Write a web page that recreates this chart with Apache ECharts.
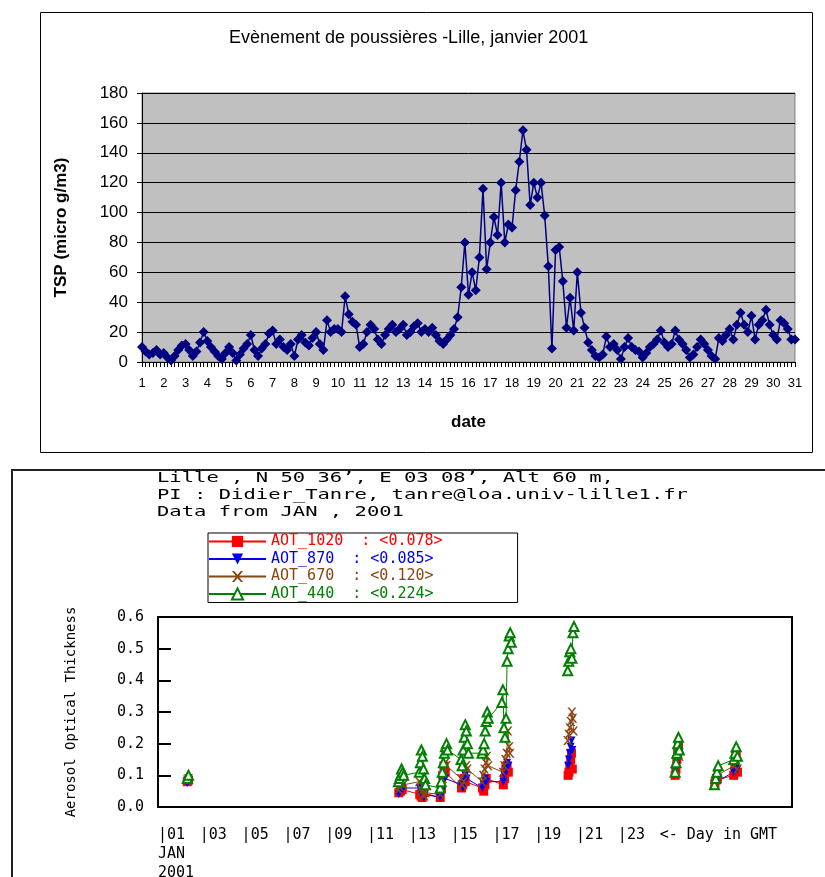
<!DOCTYPE html>
<html lang="fr">
<head>
<meta charset="UTF-8">
<title>Lille, janvier 2001</title>
<style>
  * { margin: 0; padding: 0; }
  html, body { width: 100%; height: 100%; background: #fff; }
  #chart { width: 825px; height: 877px; }
</style>
</head>
<body>
<div id="chart"></div>
<script src="https://cdn.jsdelivr.net/npm/echarts@6/dist/echarts.min.js"></script>
<script>
// --- top chart: TSP, 6 samples a day (every 4 h) ---
const dayLabels = ['1','2','3','4','5','6','7','8','9','10','11','12','13','14','15','16',
  '17','18','19','20','21','22','23','24','25','26','27','28','29','30','31'];
const sampleHours = [0, 4, 8, 12, 16, 20];
const tspValues = [
  10, 7, 5, 6, 8, 5,          // 1
  6, 3, 1, 4, 8, 11,          // 2
  12, 8, 4, 7, 13, 20,        // 3
  14, 10, 7, 4, 2, 6,         // 4
  10, 6, 1, 5, 9, 12,         // 5
  18, 8, 4, 9, 12, 19,        // 6
  21, 12, 15, 10, 8, 12,      // 7
  4, 15, 18, 13, 11, 16,      // 8
  20, 12, 8, 28, 20, 22,      // 9
  22, 20, 44, 32, 27, 25,     // 10
  10, 12, 20, 25, 22, 15,     // 11
  12, 18, 22, 25, 20, 22,     // 12
  25, 18, 20, 24, 26, 20,     // 13
  22, 20, 23, 18, 14, 12,     // 14
  15, 18, 22, 30, 50, 80,     // 15
  45, 60, 48, 70, 116, 62,    // 16
  80, 97, 85, 120, 80, 92,    // 17
  90, 115, 134, 155, 142, 105,// 18
  120, 110, 120, 98, 64, 9,   // 19
  75, 77, 54, 23, 43, 21,     // 20
  60, 33, 23, 13, 8, 4,       // 21
  3, 5, 17, 10, 12, 8,        // 22
  2, 10, 16, 10, 8, 7,        // 23
  3, 6, 10, 12, 15, 21,       // 24
  13, 10, 12, 21, 15, 12,     // 25
  8, 3, 5, 10, 15, 12,        // 26
  8, 4, 2, 16, 14, 18,        // 27
  22, 15, 25, 33, 25, 20,     // 28
  31, 15, 25, 28, 35, 25,     // 29
  18, 15, 28, 26, 22, 15,     // 30
  15                          // 31
];

// --- bottom chart: AOT (x = day of month, '-' breaks the line) ---
const aot1020 = [
  [2.40,0.080],[2.46,0.085],[5,'-'],
  [12.52,0.045],[12.60,0.050],[12.68,0.055],
  [13.52,0.040],[13.58,0.035],[13.64,0.030],[13.70,0.045],
  [14.50,0.030],[14.56,0.060],[14.62,0.100],[14.68,0.130],[14.74,0.110],
  [15.52,0.060],[15.58,0.070],[15.64,0.090],[15.70,0.080],
  [16.52,0.060],[16.58,0.050],[16.64,0.070],[16.70,0.090],
  [17.52,0.070],[17.58,0.090],[17.64,0.120],[17.70,0.130],[17.76,0.110],[19,'-'],
  [20.62,0.100],[20.66,0.110],[20.70,0.130],[20.74,0.150],[20.78,0.170],[20.82,0.120],[23,'-'],
  [25.74,0.100],[25.78,0.120],[25.82,0.150],[25.86,0.170],[25.90,0.190],[27,'-'],
  [27.64,0.075],[27.70,0.085],[27.76,0.090],
  [28.54,0.100],[28.60,0.130],[28.66,0.160],[28.72,0.110]
];
const aot870 = [
  [2.40,0.075],[2.46,0.080],[5,'-'],
  [12.52,0.040],[12.58,0.050],[12.64,0.060],[12.70,0.055],
  [13.52,0.060],[13.58,0.045],[13.64,0.035],[13.70,0.030],[13.76,0.040],
  [14.50,0.030],[14.56,0.050],[14.62,0.080],[14.68,0.100],[14.74,0.090],
  [15.52,0.070],[15.58,0.060],[15.64,0.080],[15.70,0.100],[15.76,0.090],
  [16.52,0.060],[16.58,0.070],[16.64,0.090],[16.70,0.080],
  [17.52,0.080],[17.58,0.100],[17.64,0.120],[17.70,0.140],[17.76,0.130],[19,'-'],
  [20.62,0.130],[20.66,0.150],[20.70,0.170],[20.74,0.190],[20.78,0.210],[20.82,0.180],[23,'-'],
  [25.74,0.110],[25.80,0.130],[25.86,0.150],[25.92,0.170],[27,'-'],
  [27.64,0.070],[27.72,0.080],
  [28.54,0.110],[28.60,0.140],[28.66,0.150],[28.72,0.120]
];
const aot670 = [
  [2.40,0.085],[2.46,0.090],[5,'-'],
  [12.50,0.055],[12.56,0.065],[12.62,0.075],[12.68,0.085],[12.74,0.070],
  [13.50,0.080],[13.56,0.060],[13.62,0.050],[13.68,0.040],[13.74,0.035],[13.80,0.045],
  [14.50,0.040],[14.56,0.060],[14.62,0.090],[14.68,0.120],[14.74,0.140],[14.80,0.130],
  [15.50,0.090],[15.56,0.070],[15.62,0.080],[15.68,0.110],[15.74,0.130],[15.80,0.120],
  [16.50,0.080],[16.56,0.100],[16.62,0.120],[16.68,0.140],[16.74,0.160],[16.80,0.130],
  [17.50,0.110],[17.56,0.130],[17.62,0.150],[17.68,0.170],[17.74,0.240],[17.80,0.190],[17.84,0.170],[19,'-'],
  [20.60,0.210],[20.65,0.230],[20.70,0.250],[20.75,0.270],[20.80,0.300],[20.84,0.280],[20.88,0.240],[23,'-'],
  [25.74,0.110],[25.79,0.140],[25.84,0.170],[25.89,0.190],[25.94,0.160],[27,'-'],
  [27.64,0.080],[27.70,0.090],[27.76,0.100],
  [28.54,0.130],[28.60,0.160],[28.66,0.150],[28.72,0.120]
];
const aot440 = [
  [2.40,0.090],[2.46,0.100],[5,'-'],
  [12.50,0.080],[12.55,0.090],[12.60,0.100],[12.65,0.120],[12.70,0.110],[12.75,0.100],
  [13.50,0.110],[13.55,0.140],[13.60,0.180],[13.65,0.160],[13.70,0.120],[13.75,0.090],[13.80,0.070],
  [14.50,0.060],[14.55,0.080],[14.60,0.110],[14.65,0.140],[14.70,0.170],[14.75,0.190],[14.80,0.200],[14.85,0.180],
  [15.50,0.150],[15.55,0.130],[15.60,0.180],[15.65,0.220],[15.70,0.260],[15.75,0.240],[15.80,0.200],[15.85,0.170],
  [16.50,0.170],[16.55,0.180],[16.60,0.200],[16.65,0.240],[16.70,0.270],[16.75,0.300],[16.80,0.280],
  [17.45,0.330],[17.50,0.370],[17.55,0.250],[17.60,0.220],[17.65,0.280],[17.70,0.460],[17.75,0.500],[17.80,0.540],[17.85,0.550],[17.90,0.520],[19,'-'],
  [20.60,0.430],[20.65,0.460],[20.70,0.490],[20.75,0.500],[20.80,0.470],[20.85,0.550],[20.90,0.570],[23,'-'],
  [25.74,0.110],[25.78,0.140],[25.82,0.170],[25.86,0.200],[25.90,0.220],[25.94,0.180],[27,'-'],
  [27.62,0.070],[27.68,0.090],[27.74,0.110],[27.80,0.130],
  [28.54,0.150],[28.60,0.170],[28.66,0.190],[28.72,0.160]
];
const aotNames = ['AOT_1020  : <0.078>', 'AOT_870  : <0.085>', 'AOT_670  : <0.120>', 'AOT_440  : <0.224>'];
const aotColors = ['#ff0000', '#0000ee', '#8b4513', '#008000'];
const aotTicks = ['|01','|03','|05','|07','|09','|11','|13','|15','|17','|19','|21','|23','<- Day in GMT'];
const headerLines = [
  'Lille , N 50 36’, E 03 08’, Alt 60 m,',
  'PI : Didier_Tanre, tanre@loa.univ-lille1.fr',
  'Data from JAN , 2001'
];

const tspCategories = [];
dayLabels.forEach((d, i) => {
  if (i < dayLabels.length - 1) sampleHours.forEach(h => tspCategories.push(d + ' ' + h + 'h'));
  else tspCategories.push(d + ' 0h');
});

const mono = '"DejaVu Sans Mono", "Liberation Mono", monospace';
const sans = '"Liberation Sans", Arial, sans-serif';
const crossPath = 'path://M0,0L2,0L5,3.5L8,0L10,0L6,5L10,10L8,10L5,6.5L2,10L0,10L4,5Z';
const aotSymbols = [
  {symbol: 'rect', symbolSize: 9},
  {symbol: 'triangle', symbolSize: 8, symbolRotate: 180},
  {symbol: crossPath, symbolSize: 9},
  {symbol: 'emptyTriangle', symbolSize: 9}
];
const aotData = [aot1020, aot870, aot670, aot440];

const myChart = echarts.init(document.getElementById('chart'));

const option = {
  animation: false,
  title: {
    text: 'Evènement de poussières -Lille, janvier 2001',
    left: 229, top: 29, padding: 0,
    textStyle: {fontFamily: sans, fontSize: 18, fontWeight: 'normal', color: '#000'}
  },
  legend: {
    orient: 'vertical',
    left: 208, top: 533,
    padding: [1, 75, 1, 0],
    itemWidth: 57, itemHeight: 14, itemGap: 2.5,
    borderColor: '#000', borderWidth: 1,
    backgroundColor: '#fff',
    selectedMode: false,
    data: aotNames.map((n, i) => ({name: n, textStyle: {color: aotColors[i]}})),
    textStyle: {fontFamily: mono, fontSize: 15}
  },
  grid: [
    {left: 142, right: 30, top: 93, height: 269, show: true, outerBoundsMode: 'none',
      backgroundColor: '#c0c0c0', borderColor: '#808080', borderWidth: 1},
    {left: 158, right: 33, top: 617, height: 190, show: true, outerBoundsMode: 'none',
      backgroundColor: '#fff', borderColor: '#000', borderWidth: 2}
  ],
  xAxis: [
    {
      gridIndex: 0, type: 'category', data: tspCategories, boundaryGap: false,
      name: 'date', nameLocation: 'middle', nameGap: 52,
      nameTextStyle: {fontFamily: sans, fontSize: 17, fontWeight: 'bold', color: '#000'},
      axisLine: {lineStyle: {color: '#000'}},
      axisTick: {interval: 0, length: 5, lineStyle: {color: '#000'}},
      axisLabel: {
        interval: 0, margin: 15, fontFamily: sans, fontSize: 13, color: '#000',
        formatter: v => v.endsWith(' 0h') ? v.split(' ')[0] : ''
      }
    },
    {
      gridIndex: 1, type: 'value', min: 1, max: 31.33, interval: 2,
      axisLine: {show: false}, axisTick: {show: false}, splitLine: {show: false},
      axisLabel: {
        showMaxLabel: false, showMinLabel: true, align: 'left', margin: 19,
        fontFamily: mono, fontSize: 15, color: '#000', lineHeight: 19,
        formatter: v => {
          const i = Math.round((v - 1) / 2);
          if (v === 1) return aotTicks[0] + '\nJAN\n2001';
          return aotTicks[i] || '';
        }
      }
    }
  ],
  yAxis: [
    {
      gridIndex: 0, type: 'value', min: 0, max: 180, interval: 20,
      name: 'TSP (micro g/m3)', nameLocation: 'middle', nameGap: 72,
      nameTextStyle: {fontFamily: sans, fontSize: 17, fontWeight: 'bold', color: '#000'},
      axisLine: {show: true, lineStyle: {color: '#000'}},
      axisTick: {show: true, length: 5, lineStyle: {color: '#000'}},
      axisLabel: {margin: 14, fontFamily: sans, fontSize: 17, color: '#000'},
      splitLine: {lineStyle: {color: '#000', width: 1}}
    },
    {
      gridIndex: 1, type: 'value', min: 0, max: 0.6, interval: 0.1,
      name: 'Aerosol Optical Thickness', nameLocation: 'middle', nameGap: 80,
      nameTextStyle: {fontFamily: mono, fontSize: 14, color: '#000'},
      axisLine: {show: false},
      axisTick: {show: true, inside: true, length: 13, lineStyle: {color: '#000', width: 2}},
      axisLabel: {margin: 14, fontFamily: mono, fontSize: 15, color: '#000',
        formatter: v => v.toFixed(1)},
      splitLine: {show: false}
    }
  ],
  series: [
    {
      type: 'line', name: 'TSP', xAxisIndex: 0, yAxisIndex: 0,
      data: tspValues,
      symbol: 'diamond', symbolSize: 10,
      itemStyle: {color: '#000080'},
      lineStyle: {color: '#000080', width: 1.5}
    }
  ].concat(aotData.map((d, i) => Object.assign({
    type: 'line', name: aotNames[i], xAxisIndex: 1, yAxisIndex: 1,
    data: d, connectNulls: false,
    itemStyle: {color: aotColors[i]},
    lineStyle: {color: aotColors[i], width: 1}
  }, aotSymbols[i]))),
  graphic: [
    {type: 'rect', shape: {x: 40.5, y: 12.5, width: 772, height: 440},
      style: {fill: 'none', stroke: '#000', lineWidth: 1}, silent: true},
    {type: 'rect', shape: {x: 12, y: 470, width: 840, height: 430},
      style: {fill: 'none', stroke: '#222', lineWidth: 2}, silent: true}
  ].concat(headerLines.map((t, i) => ({
    type: 'text', x: 157, y: 478 + i * 17, scaleX: 1.465, silent: true,
    style: {text: t, font: '14px ' + mono, fill: '#000', verticalAlign: 'middle'}
  })))
};

myChart.setOption(option);
window.onresize = () => myChart.resize();
</script>
</body>
</html>
